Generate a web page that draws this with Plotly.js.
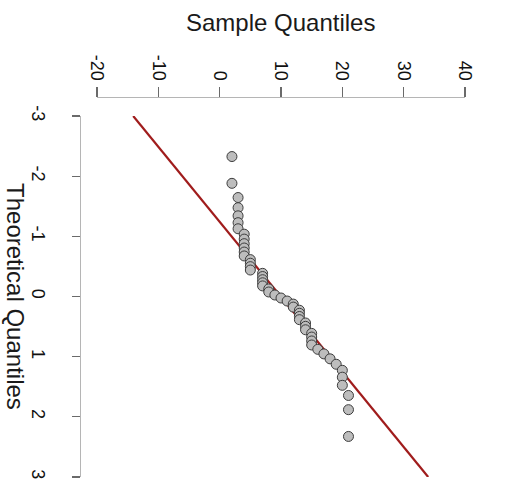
<!DOCTYPE html>
<html>
<head>
<meta charset="utf-8">
<script src="https://cdn.plot.ly/plotly-3.0.1.min.js"></script>
<style>html,body{margin:0;padding:0;background:#fff;}#chart{width:522px;height:490px;}</style>
</head>
<body>
<div id="chart"></div>
<script>
// Theoretical normal quantiles (n = 50)
var theoretical = [-2.326, -1.881, -1.645, -1.476, -1.341, -1.227, -1.126, -1.036, -0.954, -0.878,
  -0.806, -0.739, -0.674, -0.613, -0.553, -0.496, -0.440, -0.385, -0.332, -0.279,
  -0.228, -0.176, -0.126, -0.075, -0.025, 0.025, 0.075, 0.126, 0.176, 0.228,
  0.279, 0.332, 0.385, 0.440, 0.496, 0.553, 0.613, 0.674, 0.739, 0.806,
  0.878, 0.954, 1.036, 1.126, 1.227, 1.341, 1.476, 1.645, 1.881, 2.326];
// Sample quantiles (sorted sample)
var sample = [2, 2, 3, 3, 3, 3, 3, 4, 4, 4,
  4, 4, 4, 5, 5, 5, 5, 7, 7, 7,
  7, 7, 8, 8, 9, 10, 11, 12, 12, 13,
  13, 13, 13, 14, 14, 14, 15, 15, 15, 15,
  16, 17, 18, 19, 20, 20, 20, 21, 21, 21];
// Reference line (qq line) end points
var lineTheoretical = [-3, 3];
var lineSample = [-14.1, 34.0];
// Tick labels
var sampleTicks = [-20, -10, 0, 10, 20, 30, 40];
var theoTicks = [-3, -2, -1, 0, 1, 2, 3];

var font = 'Liberation Sans, Arial, Helvetica, sans-serif';

var traces = [
  {
    x: lineSample, y: lineTheoretical, xaxis: 'x2', yaxis: 'y2',
    type: 'scatter', mode: 'lines',
    line: {color: '#a01c1c', width: 2.2},
    hoverinfo: 'skip', showlegend: false
  },
  {
    x: sample, y: theoretical, xaxis: 'x2', yaxis: 'y2',
    type: 'scatter', mode: 'markers',
    marker: {size: 10, color: '#bdbdbd', line: {color: '#3c3c3c', width: 1}},
    showlegend: false
  }
];

var layout = {
  width: 522, height: 490,
  margin: {l: 80, r: 57, t: 97, b: 13, pad: 0},
  paper_bgcolor: '#ffffff', plot_bgcolor: '#ffffff',
  font: {family: font, color: '#1a1a1a'},
  showlegend: false,
  xaxis2: {
    domain: [0.0442, 1], range: [-20, 40], anchor: 'free', position: 1, side: 'top',
    showline: true, linecolor: '#b5b5b5', linewidth: 1.3,
    ticks: 'outside', ticklen: 10, tickwidth: 1.3, tickcolor: '#6a6a6a',
    tickmode: 'array', tickvals: sampleTicks, ticktext: sampleTicks.map(String),
    tickangle: 90, tickfont: {family: font, size: 18, color: '#111'},
    showgrid: false, zeroline: false
  },
  yaxis2: {
    domain: [0, 0.95], range: [3, -3], anchor: 'free', position: 0, side: 'left',
    showline: true, linecolor: '#b5b5b5', linewidth: 1.3,
    ticks: 'outside', ticklen: 8, tickwidth: 1.3, tickcolor: '#6a6a6a',
    tickmode: 'array', tickvals: theoTicks, ticktext: theoTicks.map(String),
    tickangle: 90, tickfont: {family: font, size: 18, color: '#111'},
    ticklabelstandoff: 18,
    showgrid: false, zeroline: false
  },
  annotations: [
    {text: 'Sample Quantiles', xref: 'paper', yref: 'paper', x: 0.522, y: 1.195,
     xanchor: 'center', yanchor: 'middle', showarrow: false,
     font: {family: font, size: 24, color: '#1a1a1a'}},
    {text: 'Theoretical Quantiles', xref: 'paper', yref: 'paper', x: -0.166, y: 0.476,
     xanchor: 'center', yanchor: 'middle', showarrow: false, textangle: 90,
     font: {family: font, size: 24, color: '#1a1a1a'}}
  ]
};

Plotly.newPlot('chart', traces, layout, {displayModeBar: false, staticPlot: true});
</script>
</body>
</html>
